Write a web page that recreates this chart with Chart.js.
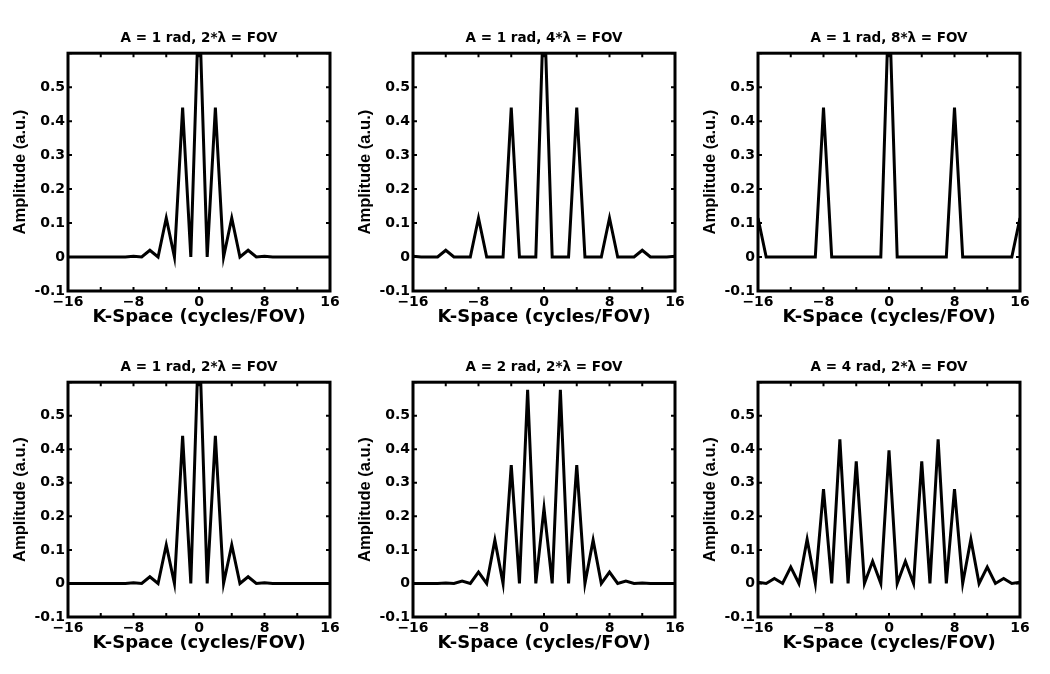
<!DOCTYPE html>
<html>
<head>
<meta charset="utf-8">
<script src="https://cdn.jsdelivr.net/npm/chart.js@4.4.0/dist/chart.umd.min.js"></script>
<style>
  body { margin: 0; background: #fff; }
  .plot { position: absolute; }
</style>
</head>
<body>
<div class="plot" style="left:0px;top:0px"><canvas id="p1" width="345" height="331"></canvas></div>
<div class="plot" style="left:345px;top:0px"><canvas id="p2" width="345" height="331"></canvas></div>
<div class="plot" style="left:690px;top:0px"><canvas id="p3" width="345" height="331"></canvas></div>
<div class="plot" style="left:0px;top:329px"><canvas id="p4" width="345" height="328"></canvas></div>
<div class="plot" style="left:345px;top:329px"><canvas id="p5" width="345" height="328"></canvas></div>
<div class="plot" style="left:690px;top:329px"><canvas id="p6" width="345" height="328"></canvas></div>
<script>
// k-space positions (cycles/FOV)
const kSpace = [-16, -15, -14, -13, -12, -11, -10, -9, -8, -7, -6, -5, -4, -3, -2, -1, 0,
                1, 2, 3, 4, 5, 6, 7, 8, 9, 10, 11, 12, 13, 14, 15, 16];

// amplitudes (a.u.)
const a1Lambda2 = [0, 0, 0, 0, 0, 0, 0, 0, 0.002, 0, 0.020, 0, 0.115, 0, 0.440, 0, 0.765,
                   0, 0.440, 0, 0.115, 0, 0.020, 0, 0.002, 0, 0, 0, 0, 0, 0, 0, 0];
const a1Lambda4 = [0.002, 0, 0, 0, 0.020, 0, 0, 0, 0.115, 0, 0, 0, 0.440, 0, 0, 0, 0.765,
                   0, 0, 0, 0.440, 0, 0, 0, 0.115, 0, 0, 0, 0.020, 0, 0, 0, 0.002];
const a1Lambda8 = [0.115, 0, 0, 0, 0, 0, 0, 0, 0.440, 0, 0, 0, 0, 0, 0, 0, 0.765,
                   0, 0, 0, 0, 0, 0, 0, 0.440, 0, 0, 0, 0, 0, 0, 0, 0.115];
const a2Lambda2 = [0, 0, 0, 0, 0.001, 0, 0.007, 0, 0.034, 0, 0.129, 0, 0.353, 0, 0.577, 0, 0.224,
                   0, 0.577, 0, 0.353, 0, 0.129, 0, 0.034, 0, 0.007, 0, 0.001, 0, 0, 0, 0];
const a4Lambda2 = [0.004, 0, 0.015, 0, 0.049, 0, 0.132, 0, 0.281, 0, 0.430, 0, 0.364, 0, 0.066, 0, 0.397,
                   0, 0.066, 0, 0.364, 0, 0.430, 0, 0.281, 0, 0.132, 0, 0.049, 0, 0.015, 0, 0.004];

const xTickLabels = ['-16', '-8', '0', '8', '16'];
const yTickLabels = ['-0.1', '0', '0.1', '0.2', '0.3', '0.4', '0.5'];

Chart.defaults.color = '#000';

// box + inward tick marks, like the original plots
const framePlugin = {
    id: 'frame',
    afterDraw(chart) {
        const { ctx, chartArea: a, scales: { x, y } } = chart;
        ctx.save();
        ctx.strokeStyle = '#000';
        ctx.lineWidth = 2;
        ctx.beginPath();
        x.ticks.forEach(t => {
            const px = x.getPixelForValue(t.value);
            ctx.moveTo(px, a.bottom); ctx.lineTo(px, a.bottom - 4);
            ctx.moveTo(px, a.top); ctx.lineTo(px, a.top + 4);
        });
        y.ticks.forEach(t => {
            const py = y.getPixelForValue(t.value);
            ctx.moveTo(a.left, py); ctx.lineTo(a.left + 4, py);
            ctx.moveTo(a.right, py); ctx.lineTo(a.right - 4, py);
        });
        ctx.stroke();
        ctx.lineWidth = 3;
        ctx.strokeRect(a.left, a.top, a.right - a.left, a.bottom - a.top);
        ctx.restore();
    }
};

function makePlot(id, title, values) {
    const ctx = document.getElementById(id).getContext('2d');
    return new Chart(ctx, {
        type: 'line',
        data: {
            datasets: [{
                data: kSpace.map((k, i) => ({ x: k, y: values[i] })),
                borderColor: '#000',
                borderWidth: 3,
                pointRadius: 0,
                tension: 0,
                clip: 0
            }]
        },
        options: {
            responsive: false,
            animation: false,
            layout: { padding: { left: 0, right: 15, top: 0, bottom: 0 } },
            scales: {
                x: {
                    type: 'linear',
                    min: -16,
                    max: 16,
                    afterFit: s => { s.height = 40; },
                    grid: { display: false, drawTicks: false },
                    border: { display: false },
                    ticks: {
                        stepSize: 4,
                        autoSkip: false,
                        maxRotation: 0,
                        padding: 3,
                        font: { family: 'DejaVu Sans', size: 14, weight: 'bold' },
                        callback: v => xTickLabels.includes(String(v)) ? String(v).replace('-', '\u2212') : ''
                    },
                    title: {
                        display: true,
                        text: 'K-Space (cycles/FOV)',
                        font: { family: 'DejaVu Sans', size: 18, weight: 'bold' },
                        padding: { top: 0, bottom: 3 }
                    }
                },
                y: {
                    min: -0.1,
                    max: 0.6,
                    afterFit: s => { s.width = 68; },
                    grid: { display: false, drawTicks: false },
                    border: { display: false },
                    ticks: {
                        stepSize: 0.1,
                        padding: 3,
                        font: { family: 'DejaVu Sans', size: 14, weight: 'bold' },
                        callback: v => {
                            const s = String(Math.round(v * 10) / 10);
                            return yTickLabels.includes(s) ? s : '';
                        }
                    },
                    title: {
                        display: true,
                        text: 'Amplitude (a.u.)',
                        font: { family: 'Liberation Sans', size: 16.5, weight: 'bold' },
                        padding: { top: 11, bottom: 0 }
                    }
                }
            },
            plugins: {
                legend: { display: false },
                tooltip: { enabled: false },
                title: {
                    display: true,
                    fullSize: false,
                    text: title,
                    font: { family: 'DejaVu Sans', size: 13.5, weight: 'bold' },
                    padding: { top: 30, bottom: 7 }
                }
            }
        },
        plugins: [framePlugin]
    });
}

makePlot('p1', 'A = 1 rad, 2*\u03bb = FOV', a1Lambda2);
makePlot('p2', 'A = 1 rad, 4*\u03bb = FOV', a1Lambda4);
makePlot('p3', 'A = 1 rad, 8*\u03bb = FOV', a1Lambda8);
makePlot('p4', 'A = 1 rad, 2*\u03bb = FOV', a1Lambda2);
makePlot('p5', 'A = 2 rad, 2*\u03bb = FOV', a2Lambda2);
makePlot('p6', 'A = 4 rad, 2*\u03bb = FOV', a4Lambda2);
</script>
</body>
</html>
